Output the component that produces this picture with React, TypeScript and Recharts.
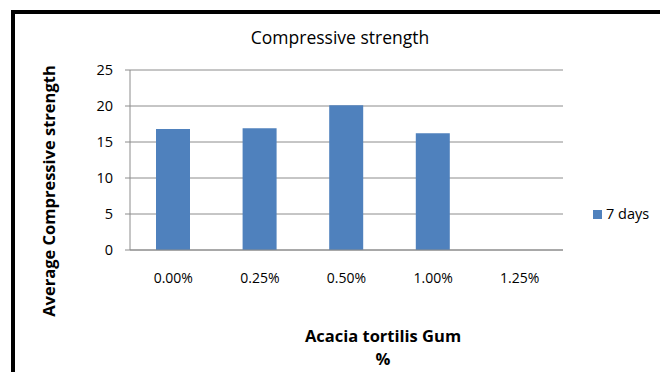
import React from 'react';
import { BarChart, Bar, XAxis, YAxis, CartesianGrid, Legend } from 'recharts';

const categories = ['0.00%', '0.25%', '0.50%', '1.00%', '1.25%'];
const sevenDays: (number | null)[] = [16.8, 16.9, 20.1, 16.2, null];
const yTicks = [0, 5, 10, 15, 20, 25];

const data = categories.map((c, i) => ({ name: c, d7: sevenDays[i] }));

const FONT = '"Open Sans", Lato, sans-serif';

export default function App() {
  return (
    <div style={{ position: 'absolute', left: 0, top: 0, width: 660, height: 372, overflow: 'hidden', background: '#fff', fontFamily: FONT }}>
      <div style={{ position: 'absolute', left: 11, top: 10, width: 800, height: 500, borderLeft: '4px solid #000', borderTop: '4px solid #000', boxSizing: 'border-box' }} />
      <div style={{ position: 'absolute', left: 0, top: 0 }}>
        <BarChart width={660} height={372} data={data} margin={{ top: 70, right: 27, bottom: 82, left: 30 }}>
          <CartesianGrid vertical={false} stroke="#8c8c8c" strokeWidth={1} />
          <XAxis
            dataKey="name"
            height={40}
            tickLine={false}
            tickSize={0}
            tickMargin={23}
            axisLine={{ stroke: '#8c8c8c' }}
            tick={{ fill: '#000', fontSize: 14, fontFamily: FONT }}
          />
          <YAxis
            width={100}
            domain={[0, 25]}
            ticks={yTicks}
            interval={0}
            tickSize={5}
            tickMargin={12}
            axisLine={{ stroke: '#8c8c8c' }}
            tickLine={{ stroke: '#8c8c8c' }}
            tick={{ fill: '#000', fontSize: 14.5, fontFamily: FONT }}
          />
          <Bar dataKey="d7" name="7 days" fill="#4F81BD" barSize={34} isAnimationActive={false} />
          <Legend
            layout="vertical"
            align="right"
            verticalAlign="top"
            iconType="square"
            iconSize={9}
            wrapperStyle={{ position: 'absolute', left: 593, top: 202, width: 70 }}
            formatter={(v: string) => <span style={{ color: '#000', fontSize: 14.5, fontFamily: FONT }}>{v}</span>}
          />
        </BarChart>
      </div>
      <div style={{ position: 'absolute', left: 0, width: 680, top: 25, textAlign: 'center', fontSize: 17.5, color: '#000' }}>
        Compressive strength
      </div>
      <div style={{ position: 'absolute', left: 283, width: 200, top: 324, textAlign: 'center', fontSize: 16.5, fontWeight: 'bold', color: '#000', lineHeight: '23px' }}>
        Acacia tortilis Gum<br />%
      </div>
      <div style={{ position: 'absolute', left: 49, top: 191, width: 0, height: 0 }}>
        <div style={{ position: 'absolute', left: -150, top: -11, width: 300, textAlign: 'center', transform: 'rotate(-90deg)', fontSize: 16.5, fontWeight: 'bold', color: '#000', lineHeight: '22px', whiteSpace: 'nowrap' }}>
          Average Compressive strength
        </div>
      </div>
    </div>
  );
}
